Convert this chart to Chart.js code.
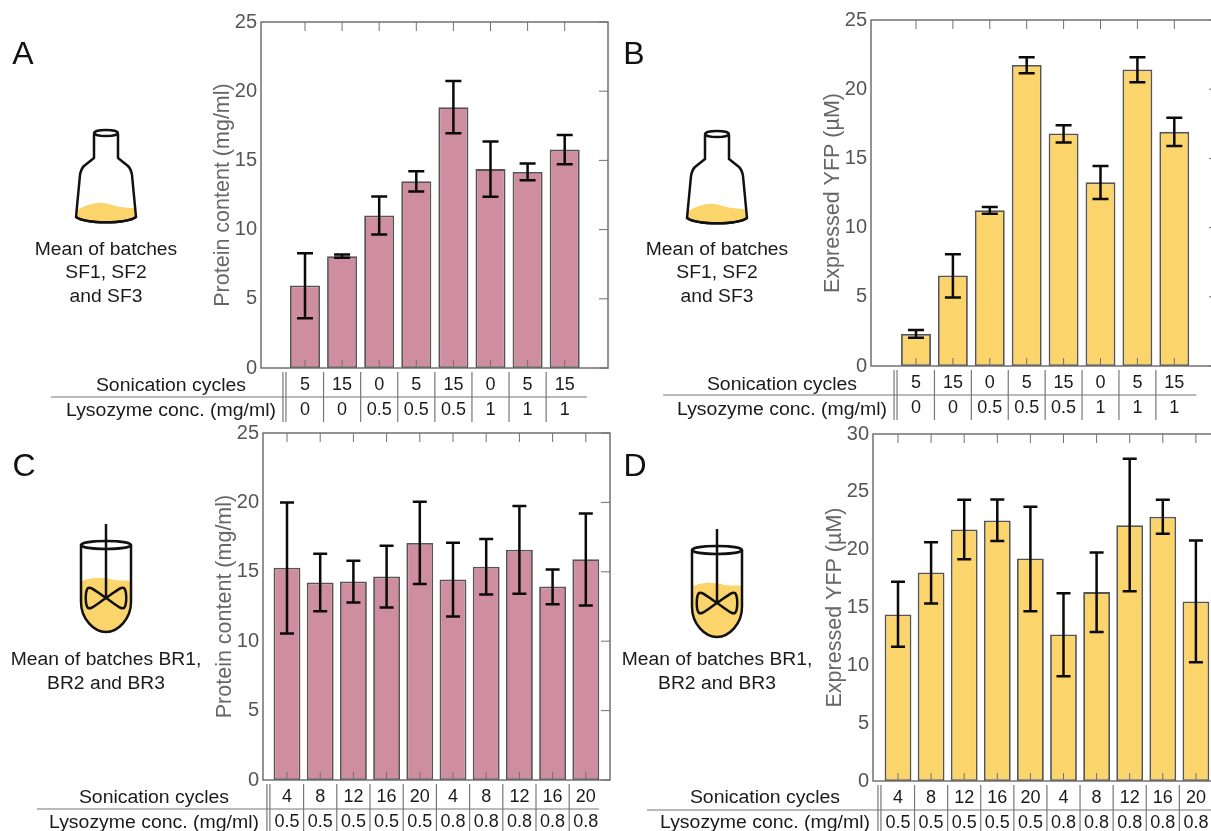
<!DOCTYPE html>
<html>
<head>
<meta charset="utf-8">
<title>Protein content and expressed YFP</title>
<script src="https://cdn.jsdelivr.net/npm/chart.js@4"></script>
<style>
  html, body { margin: 0; padding: 0; background: #fff; }
  body { position: relative; width: 1211px; height: 831px; overflow: hidden; font-family: "Liberation Sans", Arial, sans-serif; }
  canvas { position: absolute; }
  svg { position: absolute; left: 0; top: 0; }
  .label { position: absolute; white-space: nowrap; color: #1a1a1a; transform: translate(-50%, -50%); }
  .letter { font-size: 32px; color: #111; }
  .caption { font-size: 18px; transform: translate(-50%, -50%) scaleX(1.07); }
  .row-title { font-size: 18px; transform: translate(-50%, -50%) scaleX(1.08); }
</style>
</head>
<body>
<svg width="1211" height="831" id="art"></svg>
<script>
// ---------------- DATA ----------------
const flaskCycles = ["5", "15", "0", "5", "15", "0", "5", "15"];
const flaskLysozyme = ["0", "0", "0.5", "0.5", "0.5", "1", "1", "1"];
const reactorCycles = ["4", "8", "12", "16", "20", "4", "8", "12", "16", "20"];
const reactorLysozyme = ["0.5", "0.5", "0.5", "0.5", "0.5", "0.8", "0.8", "0.8", "0.8", "0.8"];

const aMeans = [5.97, 8.08, 11.02, 13.5, 18.84, 14.37, 14.17, 15.78];
const aHigh = [8.3, 8.2, 12.39, 14.22, 20.74, 16.36, 14.77, 16.84];
const aLow = [3.6, 7.97, 9.65, 12.75, 16.96, 12.37, 13.57, 14.73];

const bMeans = [2.31, 6.54, 11.25, 21.75, 16.8, 13.27, 21.42, 16.92];
const bHigh = [2.6, 8.08, 11.49, 22.3, 17.4, 14.45, 22.3, 17.93];
const bLow = [2.04, 4.95, 11.0, 21.15, 16.15, 12.07, 20.5, 15.89];

const cMeans = [15.29, 14.23, 14.3, 14.66, 17.07, 14.45, 15.36, 16.59, 13.94, 15.91];
const cHigh = [20.0, 16.3, 15.79, 16.87, 20.05, 17.1, 17.36, 19.74, 15.17, 19.2];
const cLow = [10.55, 12.16, 12.79, 12.43, 14.13, 11.78, 13.37, 13.41, 12.67, 12.57];

const dMeans = [14.39, 18.03, 21.75, 22.53, 19.24, 12.66, 16.33, 22.12, 22.84, 15.52];
const dHigh = [17.22, 20.65, 24.31, 24.34, 23.71, 16.24, 19.76, 27.86, 24.31, 20.8];
const dLow = [11.6, 15.34, 19.18, 20.74, 14.68, 9.06, 12.89, 16.41, 21.37, 10.27];

const PINK = "#CE8EA0";
const YELLOW = "#FBD46C";
const AXIS_GREY = "#707070";
const TEXT_GREY = "#555555";

// ---------------- DECORATION PLUGIN ----------------
const panelDecor = {
  id: "panelDecor",
  afterDatasetsDraw(chart, args, opts) {
    const { ctx, chartArea: area, scales } = chart;
    const x = scales.x;
    const y = scales.y;
    const count = opts.high.length;

    ctx.save();

    // inner ticks
    ctx.strokeStyle = AXIS_GREY;
    ctx.lineWidth = 1;
    for (let i = 1; i <= count; i++) {
      const px = x.getPixelForValue(i);
      ctx.beginPath();
      ctx.moveTo(px, area.top);
      ctx.lineTo(px, area.top + 9);
      ctx.moveTo(px, area.bottom);
      ctx.lineTo(px, area.bottom - 8);
      ctx.stroke();
    }
    y.ticks.forEach(t => {
      const py = y.getPixelForValue(t.value);
      ctx.beginPath();
      ctx.moveTo(area.right, py);
      ctx.lineTo(area.right - 9, py);
      ctx.stroke();
    });

    // frame
    ctx.lineWidth = 1.5;
    ctx.strokeRect(area.left, area.top, area.right - area.left, area.bottom - area.top);

    // error bars
    ctx.strokeStyle = "#0a0a0a";
    ctx.lineWidth = 2.5;
    opts.high.forEach((hi, i) => {
      const px = x.getPixelForValue(i + 1);
      const top = y.getPixelForValue(hi);
      const bottom = y.getPixelForValue(opts.low[i]);
      ctx.beginPath();
      ctx.moveTo(px, top);
      ctx.lineTo(px, bottom);
      ctx.moveTo(px - opts.cap, top);
      ctx.lineTo(px + opts.cap, top);
      ctx.moveTo(px - opts.cap, bottom);
      ctx.lineTo(px + opts.cap, bottom);
      ctx.stroke();
    });

    // table lines under the axis
    ctx.strokeStyle = "#777777";
    ctx.lineWidth = 1.2;
    const tableTop = area.bottom + 4;
    const tableBottom = area.bottom + 54;
    for (let i = 1; i < count; i++) {
      const px = x.getPixelForValue(i + 0.5);
      ctx.beginPath();
      ctx.moveTo(px, tableTop);
      ctx.lineTo(px, tableBottom);
      ctx.stroke();
    }
    const first = x.getPixelForValue(0.5) - 2;
    [first - 1.5, first + 1.5].forEach(px => {
      ctx.beginPath();
      ctx.moveTo(px, tableTop);
      ctx.lineTo(px, tableBottom);
      ctx.stroke();
    });
    ctx.beginPath();
    ctx.moveTo(area.left - opts.tableLeft, area.bottom + 29);
    ctx.lineTo(x.getPixelForValue(count + opts.tableRight), area.bottom + 29);
    ctx.stroke();

    ctx.restore();
  },
};

// ---------------- CHART BUILDER ----------------
function makePanel(p) {
  const canvas = document.createElement("canvas");
  canvas.width = p.canvasW;
  canvas.height = p.canvasH;
  canvas.style.left = p.canvasX + "px";
  canvas.style.top = p.canvasY + "px";
  document.body.appendChild(canvas);

  const axisW = 51;
  const axisBottom = p.canvasH - (p.bottom - p.canvasY);

  new Chart(canvas, {
    type: "bar",
    plugins: [panelDecor],
    data: {
      datasets: [{
        data: p.means.map((v, i) => ({ x: i + 1, y: v })),
        backgroundColor: p.color,
        borderColor: "#555555",
        borderWidth: 1.8,
        borderSkipped: false,
        barPercentage: 0.81,
        categoryPercentage: 1,
      }],
    },
    options: {
      responsive: false,
      animation: false,
      events: [],
      layout: {
        padding: {
          left: p.left - p.canvasX - axisW,
          top: p.top - p.canvasY,
          right: p.canvasW - (p.right - p.canvasX),
          bottom: 0,
        },
      },
      scales: {
        x: {
          type: "linear",
          offset: false,
          min: 1 - (p.firstCenter - p.left) / p.spacing,
          max: 1 + (p.right - p.firstCenter) / p.spacing,
          grid: { display: false, drawTicks: false },
          border: { display: false },
          afterBuildTicks: s => {
            s.ticks = p.cycles.map((c, i) => ({ value: i + 1 }));
          },
          afterFit: s => { s.height = axisBottom; },
          ticks: {
            autoSkip: false,
            maxRotation: 0,
            padding: 5,
            color: "#1a1a1a",
            font: { family: "'Liberation Sans'", size: 18, lineHeight: "25px" },
            callback: v => [p.cycles[v - 1], p.lysozyme[v - 1]],
          },
        },
        y: {
          min: 0,
          max: p.yMax,
          grid: { display: false, drawTicks: false },
          border: { display: false },
          afterFit: s => { s.width = axisW; },
          ticks: {
            stepSize: 5,
            padding: 4,
            color: TEXT_GREY,
            font: { family: "'Liberation Sans'", size: 20 },
          },
          title: {
            display: true,
            text: p.yTitle,
            color: "#666666",
            padding: 0,
            font: { family: "'Liberation Sans'", size: 21.5 },
          },
        },
      },
      plugins: {
        legend: { display: false },
        tooltip: { enabled: false },
        panelDecor: { high: p.high, low: p.low, cap: p.cap, tableLeft: p.tableLeft, tableRight: p.tableRight },
      },
    },
  });

  addLabel("Sonication cycles", p.rowTitleX, p.row1, "row-title");
  addLabel("Lysozyme conc. (mg/ml)", p.rowTitleX, p.row2, "row-title");
}

function addLabel(text, x, y, cls) {
  const el = document.createElement("div");
  el.className = "label " + cls;
  el.textContent = text;
  el.style.left = x + "px";
  el.style.top = y + "px";
  document.body.appendChild(el);
}

// ---------------- ILLUSTRATIONS ----------------
const art = document.getElementById("art");

function drawFlask(cx, cy) {
  art.insertAdjacentHTML("beforeend", `
    <g transform="translate(${cx} ${cy})" fill="none" stroke="#111" stroke-width="2.5" stroke-linejoin="round">
      <path d="M-29 77 C-20 72 -10 69 -3 70 C6 71 10 75 29 75 L31 85 C20 91 -20 91 -31 85 Z" fill="${YELLOW}" stroke="none"/>
      <ellipse cx="0" cy="0" rx="12" ry="3"/>
      <path d="M-12 1 V25 L-22 33 Q-25 36 -26 42 L-30 84 C-20 91 20 91 30 84 L26 42 Q25 36 22 33 L12 25 V1"/>
      <path d="M-30 84 C-20 91 20 91 30 84"/>
    </g>`);
}

function drawReactor(cx, cy) {
  art.insertAdjacentHTML("beforeend", `
    <g transform="translate(${cx} ${cy})" fill="none" stroke="#111" stroke-width="2.5" stroke-linejoin="round">
      <path d="M-24 36 C-12 31 0 33 8 35 C14 36 20 35 24 36 V58 C24 74 12 87 0 87 C-12 87 -24 74 -24 58 Z" fill="${YELLOW}" stroke="none"/>
      <ellipse cx="0" cy="0" rx="25" ry="4"/>
      <path d="M-25 0 V57 C-25 74 -12 87 0 87 C12 87 25 74 25 57 V0"/>
      <path d="M0 -21 V53"/>
      <path d="M0 53 C-8 48 -15 41 -18 43 C-21 46 -21 60 -18 63 C-15 65 -8 58 0 53 C8 48 15 41 18 43 C21 46 21 60 18 63 C15 65 8 58 0 53 Z"/>
    </g>`);
}

drawFlask(106, 133);
drawFlask(717, 134);
drawReactor(106, 545);
drawReactor(717, 550);

// ---------------- PANELS ----------------
const panels = [
  { canvasX: 0, canvasY: 0, canvasW: 612, canvasH: 426, left: 261, right: 608, top: 22, bottom: 368,
    firstCenter: 305, spacing: 37.1, yMax: 25, yTitle: "Protein content (mg/ml)", color: PINK,
    means: aMeans, high: aHigh, low: aLow, cycles: flaskCycles, lysozyme: flaskLysozyme,
    cap: 8, tableLeft: 210, tableRight: 0.6, rowTitleX: 171, row1: 385, row2: 410 },
  { canvasX: 612, canvasY: 0, canvasW: 620, canvasH: 426, left: 871, right: 1218, top: 20, bottom: 366,
    firstCenter: 916, spacing: 36.9, yMax: 25, yTitle: "Expressed YFP (µM)", color: YELLOW,
    means: bMeans, high: bHigh, low: bLow, cycles: flaskCycles, lysozyme: flaskLysozyme,
    cap: 8, tableLeft: 208, tableRight: 0.6, rowTitleX: 782, row1: 384, row2: 409 },
  { canvasX: 0, canvasY: 405, canvasW: 612, canvasH: 426, left: 263, right: 610, top: 433, bottom: 780,
    firstCenter: 287, spacing: 33.2, yMax: 25, yTitle: "Protein content (mg/ml)", color: PINK,
    means: cMeans, high: cHigh, low: cLow, cycles: reactorCycles, lysozyme: reactorLysozyme,
    cap: 7, tableLeft: 226, tableRight: 0.4, rowTitleX: 154, row1: 797, row2: 822 },
  { canvasX: 612, canvasY: 405, canvasW: 620, canvasH: 426, left: 873, right: 1220, top: 434, bottom: 781,
    firstCenter: 898, spacing: 33.1, yMax: 30, yTitle: "Expressed YFP (µM)", color: YELLOW,
    means: dMeans, high: dHigh, low: dLow, cycles: reactorCycles, lysozyme: reactorLysozyme,
    cap: 7, tableLeft: 226, tableRight: 0.6, rowTitleX: 765, row1: 797, row2: 822 },
];
panels.forEach(makePanel);

// ---------------- TEXT ----------------
addLabel("A", 23, 53, "letter");
addLabel("B", 634, 53, "letter");
addLabel("C", 24, 465, "letter");
addLabel("D", 635, 465, "letter");

addLabel("Mean of batches", 106, 249, "caption");
addLabel("SF1, SF2", 106, 272, "caption");
addLabel("and SF3", 106, 296, "caption");
addLabel("Mean of batches", 717, 249, "caption");
addLabel("SF1, SF2", 717, 272, "caption");
addLabel("and SF3", 717, 296, "caption");
addLabel("Mean of batches BR1,", 106, 659, "caption");
addLabel("BR2 and BR3", 106, 683, "caption");
addLabel("Mean of batches BR1,", 717, 659, "caption");
addLabel("BR2 and BR3", 717, 683, "caption");
</script>
</body>
</html>
